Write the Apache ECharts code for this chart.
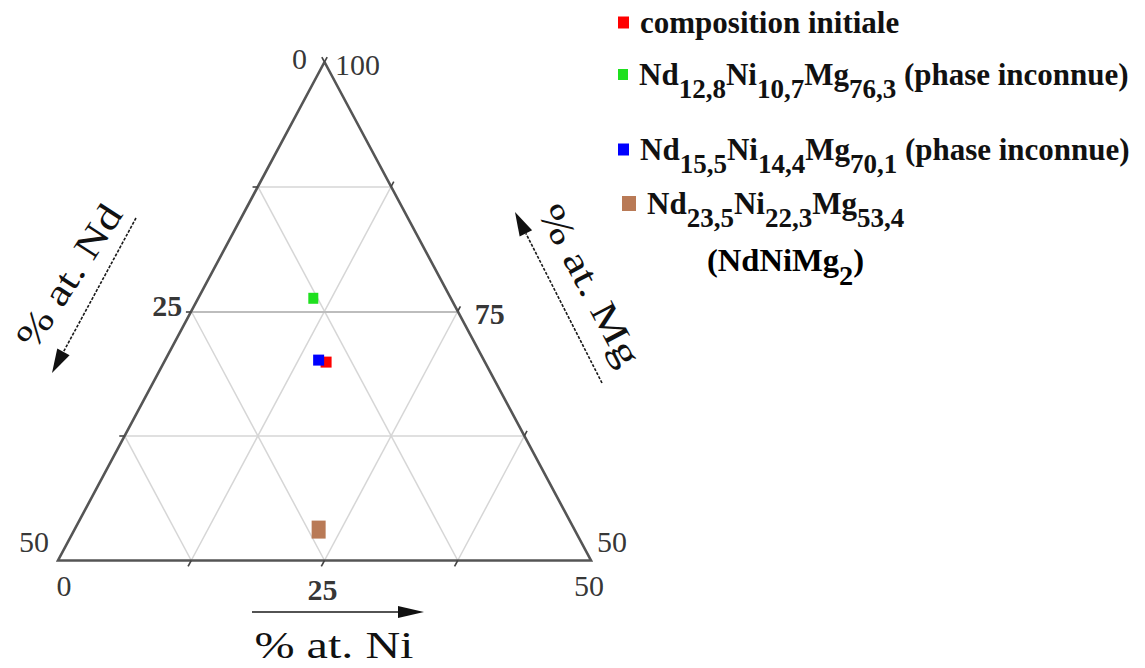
<!DOCTYPE html>
<html><head><meta charset="utf-8">
<script src="https://cdn.jsdelivr.net/npm/echarts@6/dist/echarts.min.js"></script>
<style>html,body{margin:0;padding:0;background:#fff}#c{width:1145px;height:668px}</style>
</head><body><div id="c"></div>
<script>
// ---- data ----
const seriesNames = ['composition initiale', 'Nd12,8Ni10,7Mg76,3', 'Nd15,5Ni14,4Mg70,1', 'Nd23,5Ni22,3Mg53,4'];
const ndValues = [14.9, 12.8, 15.5, 24.0];
const niValues = [15.2, 10.7, 14.4, 22.9];
const mgValues = [69.9, 76.3, 70.1, 53.1];
const gridLevels = [12.5, 25, 37.5];
const ndTickValues = [0, 25, 50];
const ndTickLabels = ['0', '25', '50'];
const niTickValues = [0, 25, 50];
const niTickLabels = ['0', '25', '50'];
const mgTickValues = [100, 75, 50];
const mgTickLabels = ['100', '75', '50'];
const legendLabels = [
  '{g|}{n|composition initiale}',
  '{g|}{n|Nd}{s|12,8}{n|Ni}{s|10,7}{n|Mg}{s|76,3}{n| (phase inconnue)}',
  '{g|}{n|Nd}{s|15,5}{n|Ni}{s|14,4}{n|Mg}{s|70,1}{n| (phase inconnue)}',
  '{g|}{n|Nd}{s|23,5}{n|Ni}{s|22,3}{n|Mg}{s|53,4}'
];
const extraLegendLine = '{n|(NdNiMg}{s|2}{n|)}';
const axisTitles = ['% at. Nd', '% at. Ni', '% at. Mg'];

// ---- styling ----
const colors = ['#ff0000', '#1fe01f', '#0000ff', '#b97a56'];
const symbolSizes = [[11, 11], [10, 11], [11, 11], [14, 18]];
const FONT = '"Liberation Serif", "Times New Roman", serif';

// ternary (Nd, Ni) -> cartesian helper: x = Ni - Nd, y = Mg - 50
const X = (nd, ni) => [ni - nd, 50 - nd - ni];

const gridSegs = [];
gridLevels.forEach(c => {
  gridSegs.push({ coords: [X(c, 0), X(c, 50 - c)] });
  gridSegs.push({ coords: [X(0, c), X(50 - c, c)] });
  const seg = { coords: [X(50 - c, 0), X(0, 50 - c)] };
  if (c === 25) seg.lineStyle = { color: '#bdbdbd', width: 2 };
  gridSegs.push(seg);
});
const tickSegs = [];
gridLevels.forEach(c => {
  tickSegs.push({ coords: [X(50 - c, c), X(50 - c + 0.6, c)] });
  tickSegs.push({ coords: [X(c, 0), X(c + 0.5, -0.5)] });
  tickSegs.push({ coords: [X(0, c), X(-0.5, c)] });
});
tickSegs.push({ coords: [X(0, 0), X(-0.5, 0)] });
tickSegs.push({ coords: [X(0, 0), X(0, -0.5)] });

const labelOffsetsNd = [[-25, -4], [-24, -6], [-24, -19]];
const labelOffsetsMg = [[33, 2], [32, 2], [21, -19]];
const labelOffsetsNi = [[6, 25], [-2, 29], [-2, 25]];
const boldLabel = { fontWeight: 'bold' };
const tickLabelData = [];
ndTickValues.forEach((v, i) => tickLabelData.push({ value: X(v, 0), label: Object.assign({ offset: labelOffsetsNd[i], formatter: ndTickLabels[i] }, v === 25 ? boldLabel : {}) }));
mgTickValues.forEach((v, i) => tickLabelData.push({ value: X(0, 100 - v), label: Object.assign({ offset: labelOffsetsMg[i], formatter: mgTickLabels[i] }, v === 75 ? boldLabel : {}) }));
niTickValues.forEach((v, i) => tickLabelData.push({ value: X(50 - v, v), label: Object.assign({ offset: labelOffsetsNi[i], formatter: niTickLabels[i] }, v === 25 ? boldLabel : {}) }));

const pointSeries = seriesNames.map((name, i) => ({
  name, type: 'scatter', symbol: 'rect', symbolSize: symbolSizes[i],
  itemStyle: { color: colors[i], opacity: 1 }, z: 10 + i, clip: false,
  emphasis: { disabled: true },
  data: [[niValues[i] - ndValues[i], mgValues[i] - 50]]
}));

const rich = {
  g: { width: 6 },
  n: { fontFamily: FONT, fontWeight: 'bold', fontSize: 31, color: '#111', lineHeight: 56, verticalAlign: 'middle' },
  s: { fontFamily: FONT, fontWeight: 'bold', fontSize: 27, color: '#111', lineHeight: 28, verticalAlign: 'bottom' }
};
const legendPos = [[618, 7, 11, 12], [618, 59, 10, 11], [618, 134, 11, 12], [622, 188, 14, 15]];
const legends = seriesNames.map((name, i) => ({
  data: [name], left: legendPos[i][0], top: legendPos[i][1], padding: 0,
  itemWidth: legendPos[i][2], itemHeight: legendPos[i][3], icon: 'rect', selectedMode: false,
  formatter: () => legendLabels[i], textStyle: { rich }
}));

function arrow(x1, y1, x2, y2, len, half, dash) {
  const dx = x2 - x1, dy = y2 - y1, L = Math.hypot(dx, dy);
  const ux = dx / L, uy = dy / L, px = -uy, py = ux;
  const bx = x2 - ux * len, by = y2 - uy * len;
  return [
    { type: 'line', shape: { x1, y1, x2: bx, y2: by }, style: { stroke: '#1a1a1a', lineWidth: 1.6, lineDash: dash } },
    { type: 'polygon', shape: { points: [[x2, y2], [bx + px * half, by + py * half], [bx - px * half, by - py * half]] }, style: { fill: '#111' } }
  ];
}

const titleFont = '37px ' + FONT;
const graphic = [
  ...arrow(252, 612, 424, 612, 26, 6, null),
  ...arrow(136, 218, 52, 373, 24, 7, [3, 1.5]),
  ...arrow(602, 383, 515, 212, 24, 7, [3, 1.5]),
  { type: 'text', x: 69, y: 276, rotation: 57 * Math.PI / 180, scaleX: 1.25, style: { text: axisTitles[0], font: titleFont, fill: '#111', align: 'center', verticalAlign: 'middle' } },
  { type: 'text', x: 334, y: 645, scaleX: 1.3, style: { text: axisTitles[1], font: titleFont, fill: '#111', align: 'center', verticalAlign: 'middle' } },
  { type: 'text', x: 590, y: 285, rotation: -62 * Math.PI / 180, scaleX: 1.3, style: { text: axisTitles[2], font: titleFont, fill: '#111', align: 'center', verticalAlign: 'middle' } },
  { type: 'text', x: 707, y: 261, scaleX: 1.05, style: { text: extraLegendLine, rich: rich, verticalAlign: 'middle', align: 'left' } }
];

const option = {
  animation: false,
  backgroundColor: '#fff',
  grid: { left: 58, right: 554, top: 62, bottom: 107.5 },
  xAxis: { type: 'value', min: -50, max: 50, show: false },
  yAxis: { type: 'value', min: 0, max: 50, show: false },
  legend: legends,
  graphic,
  series: [
    { name: 'grid', type: 'lines', coordinateSystem: 'cartesian2d', silent: true, clip: false, z: 1,
      lineStyle: { color: '#d6d6d6', width: 1.5, opacity: 1 }, data: gridSegs },
    { name: 'frame', type: 'lines', coordinateSystem: 'cartesian2d', polyline: true, silent: true, clip: false, z: 2,
      lineStyle: { color: '#555', width: 2.6, opacity: 1 }, data: [{ coords: [X(0, 0), X(50, 0), X(0, 50), X(0, 0)] }] },
    { name: 'ticks', type: 'lines', coordinateSystem: 'cartesian2d', silent: true, clip: false, z: 2,
      lineStyle: { color: '#444', width: 1.6, opacity: 1 }, data: tickSegs },
    { name: 'tickLabels', type: 'scatter', symbolSize: 1, silent: true, clip: false, z: 3,
      itemStyle: { color: 'transparent' }, emphasis: { disabled: true },
      label: { show: true, position: 'inside', fontFamily: FONT, fontSize: 30, color: '#000' },
      data: tickLabelData },
    ...pointSeries
  ]
};
const chart = echarts.init(document.getElementById('c'), null, { renderer: 'svg' });
chart.setOption(option);
</script>
</body></html>
